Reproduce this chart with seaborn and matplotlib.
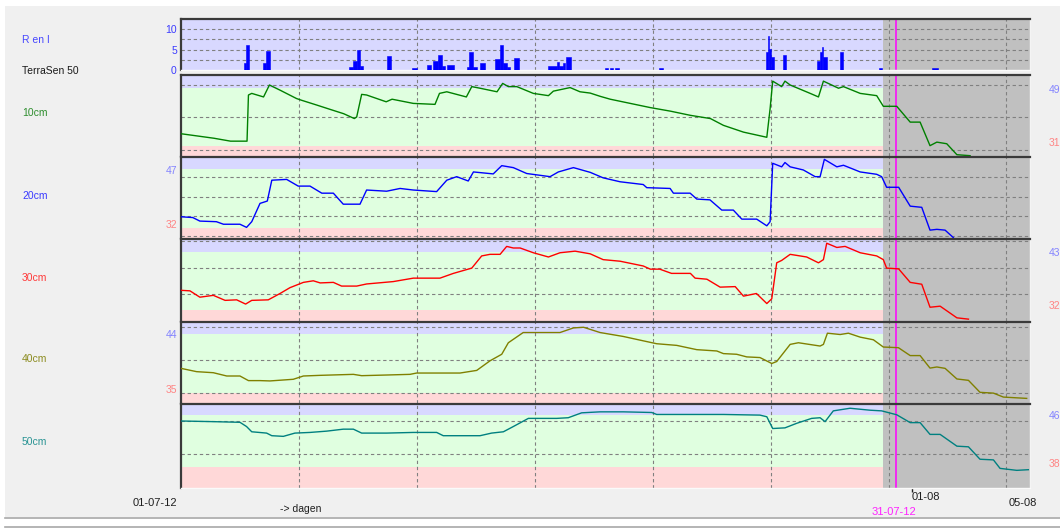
import numpy as np
import matplotlib
matplotlib.use("Agg")
import matplotlib.pyplot as plt
import matplotlib.transforms as mtransforms
from matplotlib.patches import Rectangle
from matplotlib.lines import Line2D
import seaborn as sns

# ---------------- data (x = days since 01-07-12) ----------------
rain_start = [2.69, 2.74, 3.49, 3.60, 7.12, 7.30, 7.45, 7.58, 8.75, 9.80,
              10.42, 10.70, 10.91, 11.06, 11.27, 12.12, 12.23, 12.37, 12.68,
              13.32, 13.53, 13.64, 13.81, 14.10, 15.58, 15.93, 16.04, 16.21,
              16.33, 17.98, 18.19, 18.40, 20.28, 24.81, 24.88, 24.95, 25.02,
              25.51, 26.98, 27.10, 27.17, 27.24, 27.95, 29.60, 31.84]
rain_end = [2.74, 2.88, 3.60, 3.77, 7.30, 7.45, 7.58, 7.73, 8.89, 10.00,
            10.59, 10.91, 11.06, 11.20, 11.58, 12.23, 12.37, 12.57, 12.89,
            13.53, 13.64, 13.81, 13.95, 14.33, 15.93, 16.04, 16.21, 16.28,
            16.53, 18.10, 18.31, 18.59, 20.42, 24.88, 24.95, 25.02, 25.15,
            25.66, 27.10, 27.17, 27.24, 27.38, 28.06, 29.71, 32.12]
rain_mm = [1.8, 6.2, 1.8, 4.75, 0.8, 2.25, 5.0, 1.0, 3.5, 0.6,
           1.25, 2.25, 3.75, 1.0, 1.2, 0.7, 4.5, 0.7, 1.8,
           2.7, 6.2, 1.8, 0.7, 2.85, 1.0, 2.0, 1.0, 1.8,
           3.1, 0.6, 0.6, 0.6, 0.6, 4.3, 8.3, 5.2, 3.1,
           3.7, 2.25, 4.5, 5.6, 3.1, 4.3, 0.6, 0.4]
rain_ticks = [0, 5, 10]

d10 = [0.0, 1.4, 2.1, 2.8, 2.86, 3.0, 3.5, 3.75, 4.2, 4.9, 5.1, 5.75, 6.3, 6.9,
       7.35, 7.45, 7.66, 7.87, 8.7, 8.95, 9.85, 10.77, 10.96, 11.27, 12.1, 12.33,
       12.68, 13.4, 13.64, 13.88, 14.24, 14.94, 15.58, 15.79, 16.5, 16.92, 17.35,
       17.77, 18.2, 19.05, 19.9, 20.75, 21.6, 22.45, 23.0, 23.85, 24.84, 24.98,
       25.09, 25.47, 25.61, 25.83, 26.68, 27.03, 27.24, 27.88, 28.09, 28.8, 29.5,
       29.78, 30.35, 30.92, 31.34, 31.76, 32.05, 32.47, 32.9, 33.46]
v10 = [34.9, 33.5, 32.6, 32.6, 46.9, 47.4, 46.3, 50.0, 48.4, 45.8, 45.3, 43.8,
       42.5, 41.1, 39.6, 40.1, 47.1, 46.9, 44.8, 45.6, 44.3, 44.0, 47.4, 47.9,
       46.3, 49.5, 49.0, 47.9, 50.5, 49.5, 49.5, 47.4, 46.7, 48.1, 49.2, 47.9,
       47.5, 46.5, 45.6, 44.3, 43.0, 41.9, 40.6, 39.6, 37.5, 35.4, 33.8, 42.7,
       51.2, 49.5, 51.2, 50.0, 47.4, 46.3, 51.2, 49.0, 49.5, 47.4, 46.7, 43.4,
       43.4, 38.5, 38.5, 31.2, 32.3, 31.8, 28.4, 28.1]

d20 = [0.0, 0.5, 0.8, 1.5, 1.8, 2.5, 2.78, 3.0, 3.35, 3.66, 3.85, 4.48, 4.97,
       5.47, 5.97, 6.46, 6.88, 7.59, 7.87, 8.72, 9.29, 9.85, 10.84, 11.27, 11.69,
       12.18, 12.4, 13.24, 13.6, 14.09, 14.66, 15.65, 16.0, 16.64, 17.35, 17.9,
       18.62, 19.6, 19.75, 20.74, 20.88, 21.59, 21.87, 22.43, 22.93, 23.42,
       23.78, 24.41, 24.84, 24.98, 25.09, 25.47, 25.61, 25.83, 26.39, 26.89,
       27.1, 27.28, 27.81, 28.09, 28.8, 29.5, 29.71, 29.92, 30.43, 30.92, 31.41,
       31.76, 32.05, 32.4, 32.75]
v20 = [34.9, 34.7, 33.8, 33.65, 33.0, 33.0, 32.2, 33.65, 38.3, 38.9, 44.2, 44.4,
       42.7, 42.7, 40.9, 40.9, 38.1, 38.1, 41.7, 41.4, 42.1, 41.7, 41.3, 44.2,
       45.1, 44.0, 46.3, 45.8, 47.9, 47.4, 45.9, 45.1, 46.3, 47.4, 46.2, 44.8,
       43.8, 43.1, 42.3, 42.1, 40.9, 40.9, 39.4, 39.2, 36.6, 36.6, 34.3, 34.3,
       32.6, 33.65, 48.5, 47.6, 48.7, 47.6, 46.8, 45.1, 45.1, 49.5, 47.6, 48.0,
       46.3, 45.7, 45.1, 42.4, 42.4, 37.6, 37.3, 31.5, 31.7, 31.5, 29.6]

d30 = [0.0, 0.38, 0.8, 1.37, 1.87, 2.36, 2.74, 3.0, 3.7, 4.2, 4.62, 5.19, 5.61,
       5.9, 6.46, 6.81, 7.45, 7.87, 9.0, 9.85, 10.98, 11.55, 12.33, 12.75, 13.1,
       13.53, 13.81, 14.09, 14.38, 14.94, 15.58, 16.07, 16.71, 17.35, 17.9,
       18.62, 19.6, 19.9, 20.3, 20.8, 21.6, 21.8, 22.3, 22.86, 23.5, 23.85, 24.4,
       24.84, 25.05, 25.26, 25.47, 25.83, 26.53, 27.03, 27.24, 27.38, 27.81,
       28.16, 28.8, 29.5, 29.78, 29.92, 30.43, 30.92, 31.41, 31.76, 32.19, 32.9,
       33.39]
v30 = [35.7, 35.6, 34.4, 34.75, 33.8, 33.9, 33.1, 33.8, 33.9, 35.1, 36.2, 37.2,
       37.5, 37.1, 37.2, 36.5, 36.5, 36.9, 37.35, 38.0, 38.0, 38.9, 39.9, 42.2,
       42.5, 42.5, 44.0, 43.7, 43.7, 42.8, 42.0, 42.8, 43.1, 42.6, 41.5, 41.2,
       40.3, 39.7, 39.7, 38.9, 38.9, 38.0, 37.8, 36.3, 36.4, 34.6, 35.1, 33.2,
       34.1, 40.9, 41.35, 42.5, 42.0, 40.9, 41.5, 44.6, 43.8, 44.0, 42.8, 42.2,
       41.5, 39.9, 39.75, 37.2, 36.85, 32.5, 32.7, 30.5, 30.25]

d40 = [0.0, 0.66, 1.37, 1.94, 2.5, 2.86, 3.35, 3.77, 4.76, 5.19, 5.9, 7.31,
       7.66, 8.72, 9.71, 9.99, 11.83, 12.54, 13.1, 13.6, 13.88, 14.51, 15.5,
       16.07, 16.64, 17.07, 17.77, 18.76, 19.46, 20.17, 21.02, 21.87, 22.72,
       23.0, 23.56, 23.99, 24.55, 25.05, 25.26, 25.83, 26.18, 27.1, 27.24, 27.41,
       27.95, 28.3, 28.8, 29.36, 29.78, 30.42, 30.92, 31.34, 31.76, 32.05, 32.4,
       32.9, 33.39, 33.88, 34.45, 34.87, 35.86]
v40 = [38.76, 38.26, 38.1, 37.6, 37.6, 36.9, 36.9, 36.85, 37.1, 37.6, 37.7,
       37.85, 37.65, 37.75, 37.85, 38.05, 38.05, 38.45, 39.9, 40.9, 42.65, 44.2,
       44.2, 44.2, 44.9, 45.0, 44.2, 43.6, 43.05, 42.5, 42.25, 41.6, 41.4, 41.0,
       40.9, 40.5, 40.4, 39.5, 39.8, 42.4, 42.65, 42.15, 42.4, 44.1, 43.9, 44.1,
       43.5, 43.1, 42.0, 41.9, 40.7, 40.7, 38.8, 38.97, 38.76, 37.15, 36.94,
       35.12, 35.0, 34.4, 34.2]

d50 = [0.0, 1.37, 2.5, 2.78, 3.0, 3.63, 3.85, 4.34, 4.83, 5.47, 6.18, 6.88,
       7.31, 7.66, 8.72, 9.85, 10.84, 11.12, 11.69, 12.68, 13.17, 13.67, 14.09,
       14.73, 15.51, 15.93, 16.42, 16.99, 17.77, 18.76, 19.96, 20.17, 21.6,
       23.0, 24.55, 24.84, 25.09, 25.61, 26.11, 26.74, 27.1, 27.31, 27.66,
       28.37, 29.22, 29.71, 30.35, 30.92, 31.34, 31.76, 32.19, 32.9, 33.39,
       33.88, 34.45, 34.73, 35.44, 35.93]
v50 = [45.05, 44.95, 44.85, 44.2, 43.4, 43.2, 42.8, 42.7, 43.2, 43.3, 43.5,
       43.8, 43.8, 43.2, 43.2, 43.3, 43.3, 42.8, 42.8, 42.8, 43.2, 43.4, 44.2,
       45.45, 45.45, 45.45, 45.55, 46.3, 46.45, 46.45, 46.35, 46.05, 46.05,
       46.05, 45.95, 45.7, 43.9, 44.0, 44.7, 45.45, 45.55, 44.95, 46.6, 47.0,
       46.7, 46.6, 46.0, 44.8, 44.8, 43.0, 43.0, 41.2, 41.1, 39.2, 39.1, 37.8,
       37.5, 37.6]

depth_names = ["10cm", "20cm", "30cm", "40cm", "50cm"]
upper_limits = [49, 47, 43, 44, 46]
lower_limits = [31, 32, 32, 35, 38]
forecast_start = 29.75     # start of grey (forecast) period
now_day = 30.33            # 31-07-12 marker
x_end = 36.0               # 06-08-12

# ---------------- layout helpers ----------------
W, H = 1060, 530
fig = plt.figure(figsize=(W / 100, H / 100), dpi=100, facecolor="white")
plt.rcParams["font.family"] = ["Liberation Sans", "DejaVu Sans"]


def fx(x):
    return x / W


def fy(y):
    return 1 - y / H


fig.patches.append(Rectangle((fx(5), fy(517)), 1 - fx(5), fy(6) - fy(517),
                             transform=fig.transFigure, facecolor="#f0f0f0",
                             edgecolor="none", zorder=-10))
fig.lines.append(Line2D([fx(5), 1], [fy(517.5)] * 2, transform=fig.transFigure,
                        color="#a8a8a8", lw=1.2))
fig.lines.append(Line2D([fx(5), 1], [fy(527)] * 2, transform=fig.transFigure,
                        color="#a8a8a8", lw=1.2))

X0, X1 = 181, 1030
BLUE_BAND, GREEN_BAND, PINK_BAND, GREY = "#d8d8ff", "#e0ffe0", "#ffd8d8", "#c0c0c0"
GRID_KW = dict(color="#808080", lw=0.8, dashes=(3, 2.5), zorder=1.5)
grid_days = np.arange(5, x_end, 5)


def make_ax(top, bot):
    ax = fig.add_axes([fx(X0), fy(bot), fx(X1) - fx(X0), fy(top) - fy(bot)])
    ax.set_facecolor("none")
    for s in ("top", "left"):
        ax.spines[s].set_color("#3a3a3a")
        ax.spines[s].set_linewidth(1.6)
    ax.spines["right"].set_color("#f4f4f4")
    ax.spines["right"].set_linewidth(1.0)
    ax.spines["bottom"].set_color("#fafafa")
    ax.spines["bottom"].set_linewidth(1.0)
    ax.set_xlim(0, x_end)
    ax.tick_params(length=0)
    ax.set_xticks([])
    return ax


# ---------------- rain panel ----------------
axr = make_ax(19, 70)
axr.set_ylim(0, 12.5)
axr.axhspan(0, 12.5, color=BLUE_BAND, zorder=0.5, lw=0)
axr.axvspan(forecast_start, x_end, color=GREY, zorder=1, lw=0)
for g in (2.5, 5, 7.5, 10):
    axr.axhline(g, **GRID_KW)
for g in grid_days:
    axr.axvline(g, **GRID_KW)
axr.bar(rain_start, rain_mm, width=np.array(rain_end) - np.array(rain_start),
        align="edge", color="#0000ff", edgecolor="#0000ff", linewidth=0.4, zorder=3)
axr.set_yticks(rain_ticks)
axr.set_yticklabels([str(t) for t in rain_ticks], color="#3c3cff", fontsize=7.5)
axr.tick_params(axis="y", length=0, pad=3)
axr.axvline(now_day, color="#ff00ff", lw=1.1, zorder=2.2)

# ---------------- soil moisture panels ----------------
panels = [
    dict(top=75, bot=156, ylim=(28.0, 53.1), grid=[30, 40, 50], side="right",
         color="#008000", lab="#2e8e2e", laby=113, d=d10, v=v10),
    dict(top=157, bot=238, ylim=(29.5, 50.1), grid=[30, 35, 40, 45], side="left",
         color="#0000ff", lab="#3a3aff", laby=196, d=d20, v=v20),
    dict(top=239, bot=321, ylim=(29.9, 45.4), grid=[35, 40, 45], side="right",
         color="#ff0000", lab="#ff3a3a", laby=278, d=d30, v=v30),
    dict(top=322, bot=403, ylim=(33.5, 45.8), grid=[35, 40, 45], side="left",
         color="#808000", lab="#8c8c20", laby=359, d=d40, v=v40),
    dict(top=404, bot=488, ylim=(34.8, 47.65), grid=[40, 45], side="right",
         color="#008080", lab="#2a9494", laby=442, d=d50, v=v50),
]

axes = []
for i, p in enumerate(panels):
    ax = make_ax(p["top"], p["bot"])
    axes.append(ax)
    lo, hi = p["ylim"]
    up, dn = upper_limits[i], lower_limits[i]
    ax.set_ylim(lo, hi)
    ax.set_yticks([])
    ax.axhspan(up, hi, color=BLUE_BAND, zorder=0.5, lw=0)
    ax.axhspan(dn, up, color=GREEN_BAND, zorder=0.5, lw=0)
    ax.axhspan(lo, dn, color=PINK_BAND, zorder=0.5, lw=0)
    ax.axvspan(forecast_start, x_end, color=GREY, zorder=1, lw=0)
    for g in p["grid"]:
        ax.axhline(g, **GRID_KW)
    for g in grid_days:
        ax.axvline(g, **GRID_KW)
    ax.axvline(now_day, color="#ff00ff", lw=1.1, zorder=2.2)
    sns.lineplot(x=np.array(p["d"]), y=np.array(p["v"]), ax=ax, color=p["color"],
                 linewidth=1.0, legend=False, zorder=3, estimator=None)
    ax.set_xlabel("")
    ax.set_ylabel("")
    ax.set_xticks([])
    if i < len(panels) - 1:
        ax.spines["bottom"].set_visible(False)

    # threshold labels
    tr = mtransforms.blended_transform_factory(fig.transFigure, ax.transData)
    if p["side"] == "left":
        xt, ha = fx(177), "right"
    else:
        xt, ha = fx(1049), "left"
    up_off = mtransforms.offset_copy(tr, fig=fig, y=-1.5, units="dots")
    dn_off = mtransforms.offset_copy(tr, fig=fig, y=3.5, units="dots")
    fig.text(xt, up, str(up), transform=up_off, ha=ha, va="center",
             color="#8484ff", fontsize=7.5)
    fig.text(xt, dn, str(dn), transform=dn_off, ha=ha, va="center",
             color="#ff8484", fontsize=7.5)

    fig.text(fx(22), fy(p["laby"]), depth_names[i], color=p["lab"], fontsize=7.5,
             ha="left", va="center")

# tick mark for 01-08 on last panel
axb = axes[-1]
axb.set_xticks([31])
axb.set_xticklabels([""])
axb.tick_params(axis="x", length=3, width=1, color="#202020", direction="out")

# ---------------- texts ----------------
fig.text(fx(22), fy(40), "R en I", color="#4646ff", fontsize=7.5, ha="left", va="center")
fig.text(fx(22), fy(71), "TerraSen 50", color="#1a1a1a", fontsize=7.5, ha="left", va="center")
fig.text(fx(177), fy(503), "01-07-12", color="#202020", fontsize=8, ha="right", va="center")
fig.text(fx(280), fy(509), "-> dagen", color="#202020", fontsize=7.5, ha="left", va="center")
fig.text(fx(912), fy(497), "01-08", color="#202020", fontsize=8, ha="left", va="center")
fig.text(fx(1023), fy(503), "05-08", color="#202020", fontsize=8, ha="center", va="center")
fig.text(fx(893.5), fy(512), "31-07-12", color="#ff22ff", fontsize=8, ha="center", va="center")

fig.savefig("out.png", dpi=100, facecolor="white")
